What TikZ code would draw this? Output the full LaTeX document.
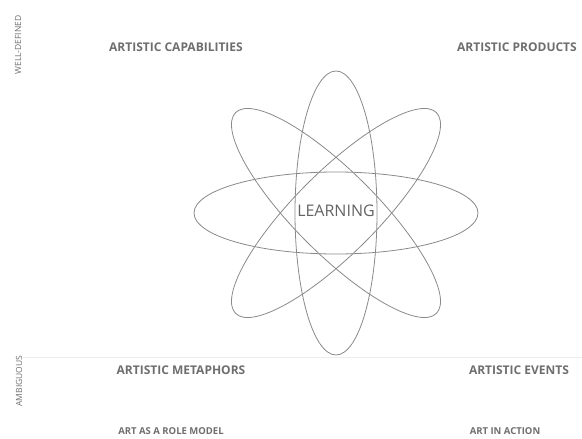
\documentclass[tikz,border=0pt]{standalone}
\usepackage{fontspec}
\setmainfont{Open Sans}
\usepackage{tikz}
\usetikzlibrary{positioning,calc}
\definecolor{orbitGray}{HTML}{8A8A8A}
\definecolor{labelGray}{HTML}{6E6E6E}
\definecolor{ruleGray}{HTML}{ECECEC}

\begin{document}
\begin{tikzpicture}[
    x=1pt, y=-1pt,
    every node/.style={inner sep=0pt, text=labelGray},
    quad/.style={font=\bfseries\fontsize{12}{14}\selectfont},
    example/.style={font=\bfseries\fontsize{9.5}{11}\selectfont},
    axis/.style={font=\fontsize{8.5}{10}\selectfont, rotate=90},
    orbit/.style={draw=orbitGray, line width=0.8pt},
  ]
  \useasboundingbox (0,0) rectangle (582,439);

  % Orbits
  \coordinate (core) at (336,213);
  \foreach \ang in {0,45,90,135}
    \draw[orbit, rotate around={\ang:(core)}] (core) ellipse (142 and 41);
  \node[font=\fontsize{16}{18}\selectfont, text=labelGray!90!black] (learn) at (336,211) {LEARNING};

  % Axis
  \draw[ruleGray, line width=0.8pt] (23,357) -- (582,357);
  \node[axis] (welldef) at (18,45) {WELL-DEFINED};
  \node[axis] (ambig) at (19,381) {AMBIGUOUS};

  % Quadrant labels
  \node[quad] (cap) at (176,47) {ARTISTIC CAPABILITIES};
  \node[quad] (prod) at (517,47) {ARTISTIC PRODUCTS};
  \node[quad] (meta) at (181,370) {ARTISTIC METAPHORS};
  \node[quad] (events) at (519,370) {ARTISTIC EVENTS};
  \node[example] (role) at (171,431) {ART AS A ROLE MODEL};
  \node[example] (action) at (505,431) {ART IN ACTION};
\end{tikzpicture}
\end{document}
